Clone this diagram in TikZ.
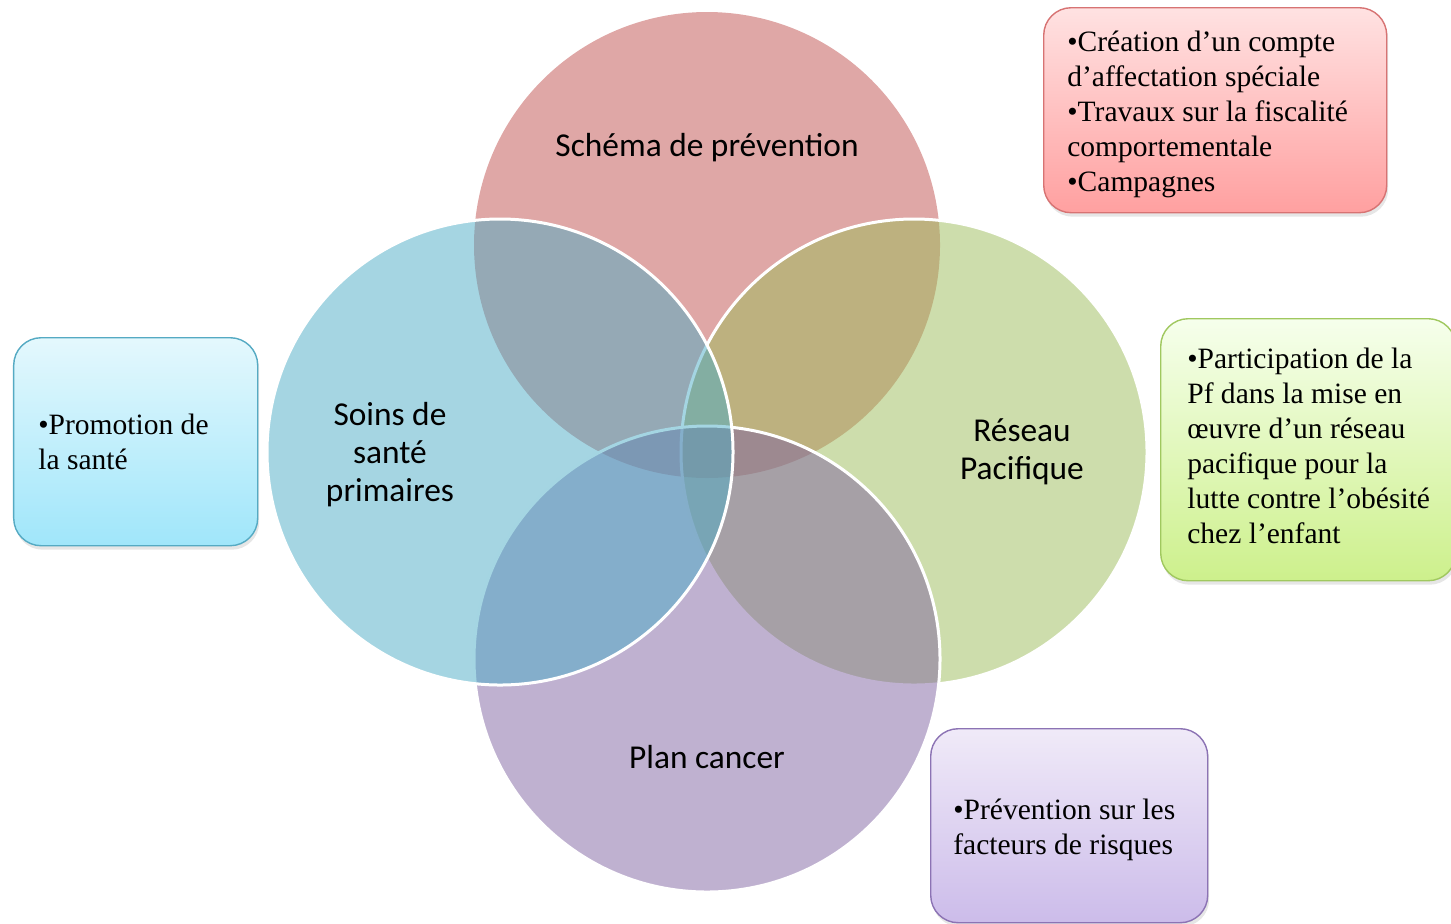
\documentclass[tikz,border=0pt]{standalone}
\usepackage{fontspec}
\setmainfont{Liberation Serif}
\newfontfamily\vennfont{Carlito}
\usepackage{tikz}
\usetikzlibrary{shadows}

\definecolor{vennred}{RGB}{192,80,77}
\definecolor{vennblue}{RGB}{75,172,198}
\definecolor{venngreen}{RGB}{155,187,89}
\definecolor{vennpurple}{RGB}{128,100,162}
\definecolor{redline}{RGB}{215,115,115}
\definecolor{redtop}{RGB}{255,226,226}
\definecolor{redbot}{RGB}{255,160,160}
\definecolor{blueline}{RGB}{85,170,195}
\definecolor{bluetop}{RGB}{228,248,253}
\definecolor{bluebot}{RGB}{160,230,250}
\definecolor{greenline}{RGB}{160,200,95}
\definecolor{greentop}{RGB}{246,255,236}
\definecolor{greenbot}{RGB}{205,240,140}
\definecolor{purpleline}{RGB}{140,115,180}
\definecolor{purpletop}{RGB}{240,234,248}
\definecolor{purplebot}{RGB}{204,188,234}

\tikzset{
    venn/.style={fill=#1, fill opacity=0.5, draw=white, line width=0.06cm},
    vennlabel/.style={font=\vennfont\fontsize{19}{21.5}\selectfont, align=center, inner sep=0pt},
    notebox/.style={draw=#1line, top color=#1top, bottom color=#1bot, line width=0.8pt,
        rounded corners=0.55cm, anchor=north west,
        drop shadow={opacity=0.2, shadow xshift=0.03cm, shadow yshift=-0.08cm}},
    notetext/.style={font=\fontsize{16.8}{19.9}\selectfont, align=left, anchor=west, inner sep=0pt}
}

\begin{document}
\begin{tikzpicture}
    \useasboundingbox (0,0) rectangle (29.02,-18.46);
    \coordinate (T) at (14.14,-4.90);  \coordinate (L) at (10.00,-9.04);
    \coordinate (R) at (18.28,-9.04);  \coordinate (B) at (14.14,-13.18);
    \draw[venn=vennred, draw=none] (T) circle (4.66);
    \draw[venn=venngreen ] (R) circle (4.66);
    \draw[venn=vennpurple] (B) circle (4.66);
    \draw[venn=vennblue  ] (L) circle (4.66);
    \node[vennlabel] (lT) at ([yshift=1.94cm]T) {Schéma de prévention};
    \node[vennlabel] (lL) at ([xshift=-2.20cm,yshift=-0.05cm]L) {Soins de\\santé\\primaires};
    \node[vennlabel] (lR) at ([xshift=2.16cm]R) {Réseau\\Pacifique};
    \node[vennlabel] (lB) at ([yshift=-1.96cm]B) {Plan cancer};
    % notes
    \node[notebox=red,    minimum width=6.86cm, minimum height=4.10cm] (bT) at (20.86,-0.14) {};
    \node[notebox=blue,   minimum width=4.88cm, minimum height=4.16cm] (bL) at (0.26,-6.74) {};
    \node[notebox=green,  minimum width=5.90cm, minimum height=5.24cm] (bR) at (23.20,-6.36) {};
    \node[notebox=purple, minimum width=5.54cm, minimum height=3.88cm] (bB) at (18.60,-14.56) {};
    \node[notetext] (tT) at ([xshift=0.48cm,yshift=-0.08cm]bT.west)
        {•Création d’un compte\\d’affectation spéciale\\•Travaux sur la fiscalité\\comportementale\\•Campagnes};
    \node[notetext] (tL) at ([xshift=0.50cm]bL.west) {•Promotion de\\la santé};
    \node[notetext] (tR) at ([xshift=0.54cm,yshift=0.08cm]bR.west)
        {•Participation de la\\Pf dans la mise en\\œuvre d’un réseau\\pacifique pour la\\lutte contre l’obésité\\chez l’enfant};
    \node[notetext] (tB) at ([xshift=0.46cm,yshift=-0.08cm]bB.west) {•Prévention sur les\\facteurs de risques};
\end{tikzpicture}
\end{document}
